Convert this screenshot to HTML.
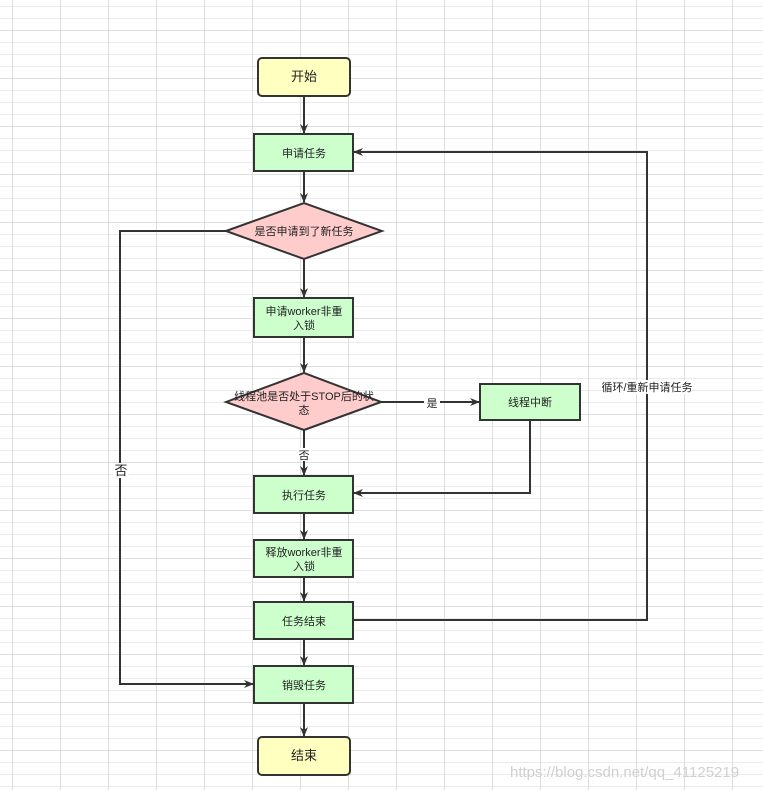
<!DOCTYPE html>
<html><head><meta charset="utf-8"><style>
html,body{margin:0;padding:0;background:#fff;}
svg{display:block;}
text{font-family:"Liberation Sans","Noto Sans CJK SC",sans-serif;}
</style></head><body>
<svg width="763" height="790" viewBox="0 0 763 790" xmlns="http://www.w3.org/2000/svg">
<defs>
<pattern id="g" x="0" y="6" width="12" height="12" patternUnits="userSpaceOnUse">
<path d="M12.5 0V12M0 0.5H12" stroke="#ebebeb" stroke-width="1" fill="none"/>
</pattern>
<pattern id="G" x="0" y="30" width="48" height="48" patternUnits="userSpaceOnUse">
<path d="M12.5 0V48M0 0.5H48" stroke="#dedede" stroke-width="1" fill="none"/>
</pattern>
<marker id="a" markerWidth="10" markerHeight="10" refX="9" refY="5" orient="auto" markerUnits="userSpaceOnUse">
<path d="M0 1L10 5L0 9L3 5Z" fill="#333"/>
</marker>
</defs>
<rect width="763" height="790" fill="url(#g)"/>
<rect width="763" height="790" fill="url(#G)"/>
<g stroke="#333" stroke-width="2" fill="none">
<line x1="304" y1="96" x2="304" y2="133" marker-end="url(#a)"/>
<line x1="304" y1="171" x2="304" y2="202" marker-end="url(#a)"/>
<line x1="304" y1="259" x2="304" y2="297" marker-end="url(#a)"/>
<line x1="304" y1="337" x2="304" y2="372" marker-end="url(#a)"/>
<line x1="304" y1="430" x2="304" y2="475" marker-end="url(#a)"/>
<line x1="304" y1="513" x2="304" y2="539" marker-end="url(#a)"/>
<line x1="304" y1="577" x2="304" y2="601" marker-end="url(#a)"/>
<line x1="304" y1="639" x2="304" y2="665" marker-end="url(#a)"/>
<line x1="304" y1="703" x2="304" y2="736" marker-end="url(#a)"/>
<line x1="381" y1="402" x2="479" y2="402" marker-end="url(#a)"/>
<polyline points="530,420 530,493 354,493" marker-end="url(#a)"/>
<polyline points="226,231 120,231 120,684 253,684" marker-end="url(#a)"/>
<polyline points="353,620 647,620 647,152 354,152" marker-end="url(#a)"/>
</g>
<g stroke="#333" stroke-width="2">
<rect x="258" y="58" width="92" height="38" rx="4" fill="#ffffc0"/>
<rect x="254" y="134" width="99" height="37" fill="#ccffcc"/>
<polygon points="226,231 304,203 382,231 304,259" fill="#ffcccc"/>
<rect x="254" y="298" width="99" height="39" fill="#ccffcc"/>
<polygon points="226,402 304,373 381,402 304,430" fill="#ffcccc"/>
<rect x="480" y="384" width="100" height="36" fill="#ccffcc"/>
<rect x="254" y="476" width="99" height="37" fill="#ccffcc"/>
<rect x="254" y="540" width="99" height="37" fill="#ccffcc"/>
<rect x="254" y="602" width="99" height="37" fill="#ccffcc"/>
<rect x="254" y="666" width="99" height="37" fill="#ccffcc"/>
<rect x="258" y="737" width="92" height="38" rx="4" fill="#ffffc0"/>
</g>
<g fill="#222" font-size="11" text-anchor="middle">
<text x="304" y="81" font-size="13">开始</text>
<text x="304" y="157">申请任务</text>
<text x="304" y="235">是否申请到了新任务</text>
<text x="304" y="315">申请worker非重</text>
<text x="304" y="329">入锁</text>
<text x="304" y="400">线程池是否处于STOP后的状</text>
<text x="304" y="414">态</text>
<text x="530" y="406">线程中断</text>
<text x="304" y="499">执行任务</text>
<text x="304" y="556">释放worker非重</text>
<text x="304" y="570">入锁</text>
<text x="304" y="625">任务结束</text>
<text x="304" y="689">销毁任务</text>
<text x="304" y="760" font-size="13">结束</text>
</g>
<g font-size="11" text-anchor="middle" fill="#222">
<rect x="424" y="396" width="16" height="13" fill="#fff"/>
<text x="432" y="407">是</text>
<rect x="296" y="448" width="16" height="13" fill="#fff"/>
<text x="304" y="459">否</text>
<rect x="113" y="463" width="16" height="15" fill="#fff"/>
<text x="121" y="475" font-size="13">否</text>
<rect x="603" y="380" width="88" height="14" fill="#fff"/>
<text x="647" y="391">循环/重新申请任务</text>
</g>
<text x="510" y="777" font-size="15" fill="#d0d0d0">https://blog.csdn.net/qq_41125219</text>
</svg>
</body></html>
